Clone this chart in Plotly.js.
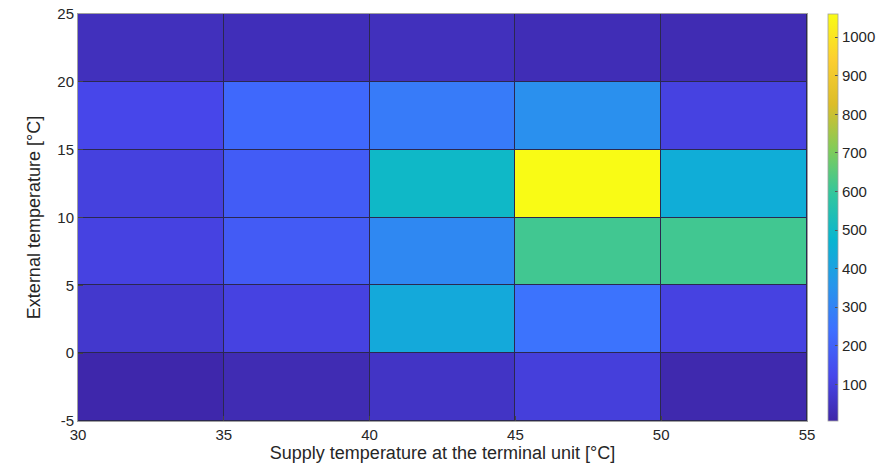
<!DOCTYPE html>
<html>
<head>
<meta charset="utf-8">
<script src="https://cdn.plot.ly/plotly-3.0.1.min.js"></script>
<style>html,body{margin:0;padding:0;background:#fff;}#chart{width:890px;height:468px;}</style>
</head>
<body>
<div id="chart"></div>
<script>
// Bin edges
const xEdges = [30, 35, 40, 45, 50, 55];
const yEdges = [-5, 0, 5, 10, 15, 20, 25];
const yTickText = ['-5', '0', '5', '10', '15', '20', '25'];
// Rows from bottom (-5..0) to top (20..25); columns 30-35 ... 50-55
const row_m5_0  = [10, 25, 55, 95, 15];
const row_0_5   = [70, 105, 430, 250, 105];
const row_5_10  = [105, 180, 315, 615, 615];
const row_10_15 = [100, 185, 495, 1060, 445];
const row_15_20 = [120, 220, 275, 340, 105];
const row_20_25 = [40, 35, 40, 30, 25];
const colorbarTicks = [100, 200, 300, 400, 500, 600, 700, 800, 900, 1000];

const z = [row_m5_0, row_0_5, row_5_10, row_10_15, row_15_20, row_20_25];

// MATLAB parula approximation
const parula = [
  [0.0000, 'rgb(62,38,168)'],
  [0.1111, 'rgb(71,71,235)'],
  [0.2222, 'rgb(62,111,255)'],
  [0.3333, 'rgb(39,150,235)'],
  [0.4444, 'rgb(8,181,208)'],
  [0.5556, 'rgb(49,198,159)'],
  [0.6667, 'rgb(129,204,89)'],
  [0.7778, 'rgb(220,189,41)'],
  [0.8889, 'rgb(252,207,48)'],
  [1.0000, 'rgb(249,251,21)']
];

const font = "'Liberation Sans', Arial, Helvetica, sans-serif";

const trace = {
  type: 'heatmap',
  x: xEdges,
  y: yEdges,
  z: z,
  zmin: 5,
  zmax: 1060,
  colorscale: parula,
  xgap: 1,
  ygap: 1,
  hoverinfo: 'x+y+z',
  colorbar: {
    x: 1.0274,
    xanchor: 'left',
    y: 0.5,
    yanchor: 'middle',
    len: 1,
    lenmode: 'fraction',
    thickness: 10,
    thicknessmode: 'pixels',
    outlinewidth: 0.8,
    outlinecolor: '#a0a0a0',
    tickvals: colorbarTicks,
    ticks: 'inside',
    ticklen: 3,
    tickcolor: '#555',
    tickfont: {family: font, size: 15, color: '#262626'},
    xpad: 0,
    ypad: 0
  }
};

const layout = {
  width: 890,
  height: 468,
  margin: {l: 78, r: 82, t: 14, b: 47},
  paper_bgcolor: '#ffffff',
  plot_bgcolor: '#2b2850',
  font: {family: font, size: 15, color: '#262626'},
  xaxis: {
    range: [30, 55],
    tickvals: xEdges,
    ticks: 'inside',
    ticklen: 5,
    tickcolor: '#444',
    showgrid: false,
    zeroline: false,
    showline: true,
    linecolor: '#a0a0a0',
    linewidth: 1,
    mirror: true,
    tickfont: {family: font, size: 15, color: '#262626'},
    title: {text: 'Supply temperature at the terminal unit [°C]', font: {family: font, size: 18, color: '#262626'}, standoff: 2}
  },
  yaxis: {
    range: [-5, 25],
    tickvals: yEdges,
    ticktext: yTickText,
    ticks: 'inside',
    ticklen: 5,
    tickcolor: '#444',
    showgrid: false,
    zeroline: false,
    showline: true,
    linecolor: '#a0a0a0',
    linewidth: 1,
    mirror: true,
    tickfont: {family: font, size: 15, color: '#262626'},
    title: {text: 'External temperature [°C]', font: {family: font, size: 18, color: '#262626'}, standoff: 12}
  }
};

Plotly.newPlot('chart', [trace], layout, {displayModeBar: false, staticPlot: true});
</script>
</body>
</html>
